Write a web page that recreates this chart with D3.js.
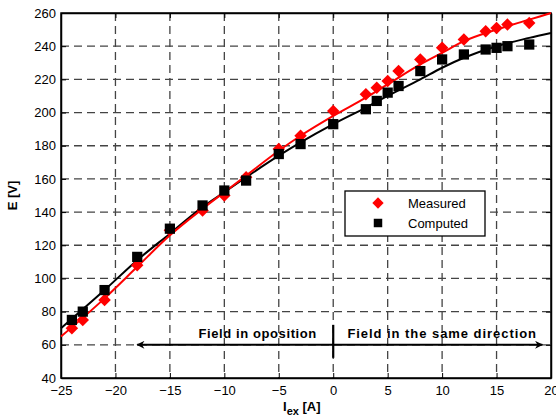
<!DOCTYPE html>
<html>
<head>
<meta charset="utf-8">
<script src="https://cdn.jsdelivr.net/npm/d3@7"></script>
<style>
  body { margin: 0; background: #fff; }
  text { font-family: Arial, "Liberation Sans", sans-serif; }
</style>
</head>
<body>
<div id="chart"></div>
<script>
// Measured points (red diamonds)
const measuredX = [-24, -23, -21, -18, -15, -12, -10, -8, -5, -3, 0, 3, 4, 5, 6, 8, 10, 12, 14, 15, 16, 18];
const measuredE = [70, 75, 87, 108, 129, 141, 150, 161, 178, 186, 201, 211, 215, 219, 225, 232, 239, 244, 249, 251, 253, 254];

// Computed points (black squares)
const computedX = [-24, -23, -21, -18, -15, -12, -10, -8, -5, -3, 0, 3, 4, 5, 6, 8, 10, 12, 14, 15, 16, 18];
const computedE = [75, 80, 93, 113, 130, 144, 153, 159, 175, 181, 193, 202, 207, 212, 216, 225, 232, 235, 238, 239, 240, 241];

// Fitted curves
const fitX = [-25, -21, -18, -15, -12, -10, -8, -5, -3, 0, 3, 5, 8, 10, 12, 15, 18, 20];
const fitMeasured = [65, 88, 107, 126, 142, 152, 162, 177, 186, 198, 209, 217, 229, 236, 243, 250, 256, 260];
const fitComputed = [70, 93, 111, 127, 143, 152, 161, 174, 182, 193, 203, 210, 220, 227, 233, 240, 245, 248];

const xTicks = [-25, -20, -15, -10, -5, 0, 5, 10, 15, 20];
const yTicks = [40, 60, 80, 100, 120, 140, 160, 180, 200, 220, 240, 260];

const width = 556, height = 420;
const margin = {top: 13, right: 5, bottom: 42, left: 61};

const svg = d3.select("#chart").append("svg")
    .attr("width", width)
    .attr("height", height);

const x = d3.scaleLinear().domain([-25, 20]).range([margin.left, width - margin.right]);
const y = d3.scaleLinear().domain([40, 260]).range([height - margin.bottom, margin.top]);

// Dashed grid
svg.append("g")
    .attr("stroke", "#444")
    .attr("stroke-width", 1.3)
    .attr("stroke-dasharray", "8,5")
  .selectAll("line")
  .data(xTicks.slice(1, -1))
  .join("line")
    .attr("x1", d => x(d)).attr("x2", d => x(d))
    .attr("y1", y(260)).attr("y2", y(40));

svg.append("g")
    .attr("stroke", "#444")
    .attr("stroke-width", 1.3)
    .attr("stroke-dasharray", "8,5")
  .selectAll("line")
  .data(yTicks.slice(1, -1))
  .join("line")
    .attr("x1", x(-25)).attr("x2", x(20))
    .attr("y1", d => y(d)).attr("y2", d => y(d));

// Axes
svg.append("g")
    .attr("transform", `translate(0,${y(40)})`)
    .call(d3.axisBottom(x).tickValues(xTicks).tickSizeInner(-5).tickSizeOuter(0).tickPadding(8));
svg.append("g")
    .attr("transform", `translate(${x(-25)},0)`)
    .call(d3.axisLeft(y).tickValues(yTicks).tickSizeInner(-5).tickSizeOuter(0).tickPadding(5));
svg.append("g")
    .attr("transform", `translate(0,${y(260)})`)
    .call(d3.axisTop(x).tickValues(xTicks).tickSizeInner(-5).tickSizeOuter(0).tickFormat(""));
svg.append("g")
    .attr("transform", `translate(${x(20)},0)`)
    .call(d3.axisRight(y).tickValues(yTicks).tickSizeInner(-5).tickSizeOuter(0).tickFormat(""));

svg.selectAll(".domain").attr("stroke", "#000").attr("stroke-width", 1.5);
svg.selectAll(".tick line").attr("stroke", "#000");
svg.selectAll(".tick text").attr("font-size", 13).attr("fill", "#000")
    .attr("font-family", "Arial, 'Liberation Sans', sans-serif");

// Frame
svg.append("rect")
    .attr("x", x(-25)).attr("y", y(260))
    .attr("width", x(20) - x(-25)).attr("height", y(40) - y(260))
    .attr("fill", "none").attr("stroke", "#000").attr("stroke-width", 1.5);

// Fitted lines
const line = (ys) => d3.line()
    .x((d, i) => x(fitX[i]))
    .y(d => y(d))
    .curve(d3.curveMonotoneX)(ys);

svg.append("path")
    .attr("d", line(fitComputed))
    .attr("fill", "none").attr("stroke", "#000").attr("stroke-width", 2);
svg.append("path")
    .attr("d", line(fitMeasured))
    .attr("fill", "none").attr("stroke", "#f00").attr("stroke-width", 2);

// Markers
const diamond = d3.symbol().type(d3.symbolSquare).size(78);
const square = d3.symbol().type(d3.symbolSquare).size(105);

svg.append("g").attr("fill", "#f00")
  .selectAll("path")
  .data(measuredX)
  .join("path")
    .attr("transform", (d, i) => `translate(${x(d)},${y(measuredE[i])}) rotate(45)`)
    .attr("d", diamond);

svg.append("g").attr("fill", "#000")
  .selectAll("path")
  .data(computedX)
  .join("path")
    .attr("transform", (d, i) => `translate(${x(d)},${y(computedE[i])})`)
    .attr("d", square);

// Legend
const lg = svg.append("g").attr("transform", "translate(345,191)");
lg.append("rect").attr("width", 140).attr("height", 45)
    .attr("fill", "#fff").attr("stroke", "#000").attr("stroke-width", 1.3);
lg.append("path").attr("transform", "translate(33,12) rotate(45)")
    .attr("d", d3.symbol().type(d3.symbolSquare).size(64)).attr("fill", "#f00");
lg.append("path").attr("transform", "translate(33,32)")
    .attr("d", d3.symbol().type(d3.symbolSquare).size(72)).attr("fill", "#000");
lg.append("text").attr("x", 63).attr("y", 17).attr("font-size", 13).text("Measured");
lg.append("text").attr("x", 63).attr("y", 37).attr("font-size", 13).text("Computed");

// Annotation arrows
const ay = y(60);
svg.append("defs").append("marker")
    .attr("id", "arr").attr("viewBox", "0 0 10 10")
    .attr("refX", 9).attr("refY", 5)
    .attr("markerWidth", 12).attr("markerHeight", 8)
    .attr("markerUnits", "userSpaceOnUse")
    .attr("orient", "auto-start-reverse")
  .append("path").attr("d", "M0,0 L10,5 L0,10 L3,5 Z").attr("fill", "#000");

svg.append("line")
    .attr("x1", x(-18)).attr("x2", x(19.2))
    .attr("y1", ay).attr("y2", ay)
    .attr("stroke", "#000").attr("stroke-width", 2)
    .attr("marker-start", "url(#arr)").attr("marker-end", "url(#arr)");
svg.append("line")
    .attr("x1", x(0)).attr("x2", x(0))
    .attr("y1", ay - 20).attr("y2", ay + 13)
    .attr("stroke", "#000").attr("stroke-width", 2.2);

svg.append("text")
    .attr("x", x(-1.5)).attr("y", ay - 7)
    .attr("text-anchor", "end").attr("font-size", 13).attr("font-weight", "bold")
    .attr("letter-spacing", 0.6)
    .text("Field in oposition");
svg.append("text")
    .attr("x", x(1.3)).attr("y", ay - 7)
    .attr("text-anchor", "start").attr("font-size", 13).attr("font-weight", "bold")
    .attr("letter-spacing", 0.95)
    .text("Field in the same direction");

// Axis labels
svg.append("text")
    .attr("transform", `translate(17,${(y(40) + y(260)) / 2}) rotate(-90)`)
    .attr("text-anchor", "middle").attr("font-size", 13).attr("font-weight", "bold")
    .text("E [V]");

const xl = svg.append("text")
    .attr("x", 283).attr("y", 411)
    .attr("font-size", 13).attr("font-weight", "bold");
xl.append("tspan").text("I");
xl.append("tspan").attr("dy", 4).attr("font-size", 11).text("ex");
xl.append("tspan").attr("dy", -4).text(" [A]");
</script>
</body>
</html>
